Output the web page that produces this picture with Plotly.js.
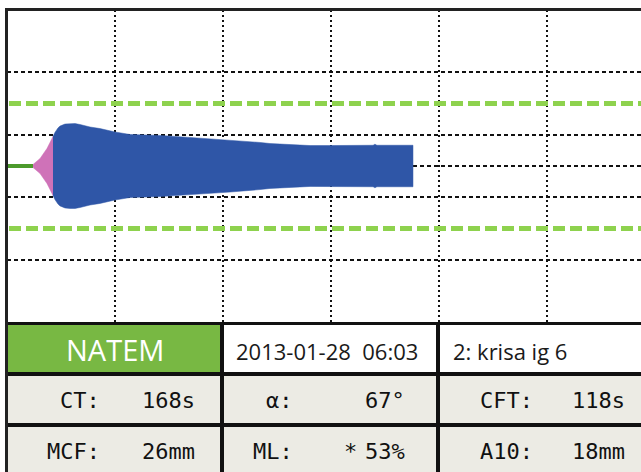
<!DOCTYPE html>
<html>
<head>
<meta charset="utf-8">
<script src="https://cdn.plot.ly/plotly-3.0.1.min.js"></script>
<style>html,body{margin:0;padding:0;background:#fff;}#chart{width:641px;height:472px;}</style>
</head>
<body>
<div id="chart"></div>
<script>
// ---- data (time in minutes, amplitude in mm) ----
const baseTime = [0, 2.41];
const pinkTime = [2.41, 3.06, 3.70, 4.26];
const pinkAmp  = [0.96, 4.8, 11.2, 18.9];
const blueTime = [4.26, 4.44, 4.72, 4.91, 5.37, 5.83, 6.30, 6.76, 7.69, 8.61, 10.0, 11.39, 14.17, 16.94, 20.65, 23.43, 24.35, 28.06, 29.91, 33.9, 34.07, 34.25, 37.59];
const blueAmp  = [18.9, 21.5, 24.4, 25.6, 26.9, 27.2, 27.2, 26.6, 25.0, 24.0, 21.8, 20.2, 19.6, 18.3, 16.7, 15.1, 14.4, 13.1, 13.1, 13.3, 14.0, 13.3, 13.3];
const refLimits = [-20, 20];
const gridY = [-30, -10, 0, 10, 30];

const testName = 'NATEM';
const testDate = '2013-01-28  06:03';
const channel = '2: krisa ig 6';
const paramLabels = ['CT:', 'α:', 'CFT:', 'MCF:', 'ML:', 'A10:'];
const paramValues = ['168s', '67°', '118s', '26mm', '53%', '18mm'];
const paramFlags  = ['', '', '', '', '*', ''];

// ---- helpers ----
const W = 641, H = 472;
const px = x => x / W;
const py = y => 1 - y / H;
function envelope(t, a) {
  const xs = t.concat(t.slice().reverse());
  const ys = a.map(v => v / 2).concat(a.slice().reverse().map(v => -v / 2));
  return {xs, ys};
}
const pinkEnv = envelope(pinkTime, pinkAmp);
const blueEnv = envelope(blueTime, blueAmp);

const traces = [
  {x: pinkEnv.xs, y: pinkEnv.ys, type: 'scatter', mode: 'lines', fill: 'toself',
   fillcolor: '#cf72b8', line: {color: '#cf72b8', width: 0.5}, hoverinfo: 'skip'},
  {x: blueEnv.xs, y: blueEnv.ys, type: 'scatter', mode: 'lines', fill: 'toself',
   fillcolor: '#2f56a7', line: {color: '#2f56a7', width: 0.5}, hoverinfo: 'skip'},
  {x: baseTime, y: [0, 0], type: 'scatter', mode: 'lines',
   line: {color: '#4c9a2c', width: 4}, hoverinfo: 'skip'}
];

const shapes = [];
// reference limits (green dashed)
refLimits.forEach(v => shapes.push({type: 'line', xref: 'paper', yref: 'y', x0: px(9), x1: 1, y0: v, y1: v,
  line: {color: '#8ed24e', width: 5, dash: '12px,5px'}, layer: 'above'}));
// table backgrounds
function rect(x0, y0, x1, y1, color) {
  shapes.push({type: 'rect', xref: 'paper', yref: 'paper', x0: px(x0), x1: px(x1), y0: py(y0), y1: py(y1),
    fillcolor: color, line: {width: 0}, layer: 'above'});
}
rect(7, 325, 220, 372, '#78b843');
rect(224, 325, 641, 372, '#ffffff');
rect(7, 376, 641, 423, '#ecebe4');
rect(7, 427, 641, 472, '#ecebe4');
// table borders
rect(5, 322, 641, 325, '#111111');
rect(5, 372, 641, 376, '#111111');
rect(5, 423, 641, 427, '#111111');
rect(220, 322, 224, 472, '#111111');
rect(436, 322, 440, 472, '#111111');
// outer frame
rect(5, 8, 8, 472, '#222222');
rect(5, 8, 641, 11, '#222222');

const annotations = [];
function text(t, x, y, anchor, font) {
  annotations.push({text: t, xref: 'paper', yref: 'paper', x: px(x), y: py(y), xanchor: anchor, yanchor: 'middle',
    showarrow: false, font: font, borderpad: 0});
}
const sans = {family: 'Open Sans, sans-serif', size: 22, color: '#1a1a1a'};
const mono = {family: 'DejaVu Sans Mono, monospace', size: 22, color: '#111'};
text(testName, 115, 349, 'center', {family: 'Open Sans, sans-serif', size: 29, color: '#ffffff'});
text(testDate, 235, 351, 'left', sans);
text(channel, 452, 351, 'left', sans);
const labelRight = [101, 294, 534];
const valueRight = [196, 406, 626];
const rowY = [400, 451];
paramLabels.forEach((lab, i) => {
  const r = Math.floor(i / 3), c = i % 3;
  text(lab, labelRight[c], rowY[r], 'right', mono);
  text(paramValues[i], valueRight[c], rowY[r], 'right', mono);
  if (paramFlags[i]) text(paramFlags[i], 350, rowY[r], 'center', mono);
});

const layout = {
  width: W, height: H,
  margin: {l: 0, r: 0, t: 0, b: 0},
  paper_bgcolor: '#ffffff', plot_bgcolor: '#ffffff',
  showlegend: false,
  xaxis: {domain: [px(7), 1], range: [0, (641 - 7) / 10.8], tickmode: 'linear', tick0: 0, dtick: 10,
    showgrid: true, gridcolor: '#111', gridwidth: 2, griddash: '2px,3px',
    showticklabels: false, ticks: '', zeroline: false, showline: false, fixedrange: true},
  yaxis: {domain: [py(322), py(10)], range: [-50, 50], tickmode: 'array', tickvals: gridY,
    showgrid: true, gridcolor: '#111', gridwidth: 2, griddash: '4px,3px',
    showticklabels: false, ticks: '', zeroline: false, showline: false, fixedrange: true},
  shapes: shapes,
  annotations: annotations
};

Plotly.newPlot('chart', traces, layout, {displayModeBar: false, staticPlot: true});
</script>
</body>
</html>
